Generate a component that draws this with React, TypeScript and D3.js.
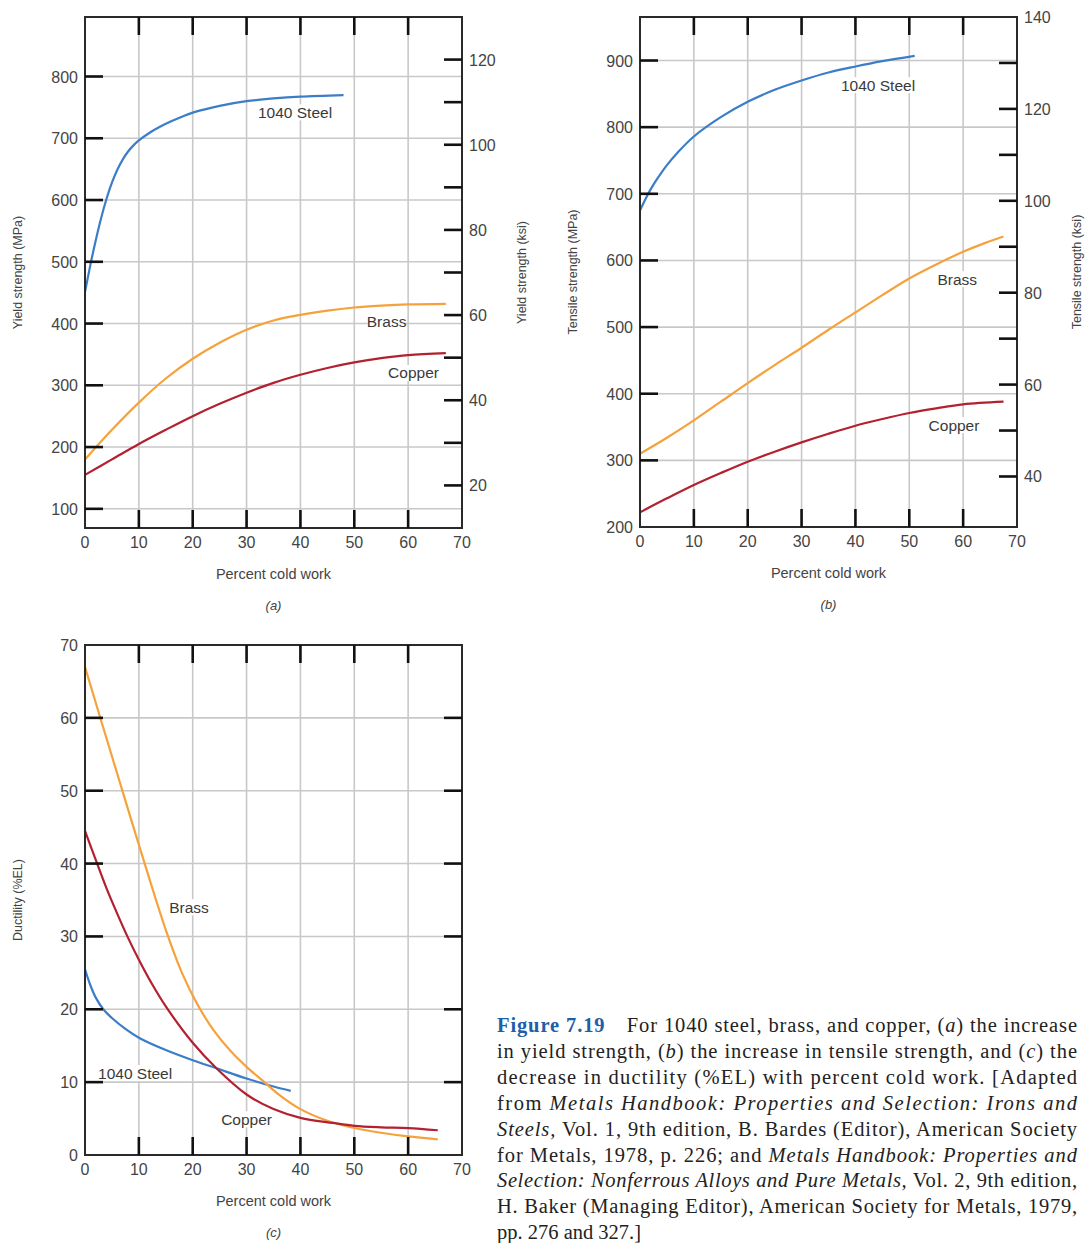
import React from 'react';
import * as d3 from 'd3';

// conversion between the two stress axes
const MPA_PER_KSI = 6.895;

// shared x axis
const coldWorkTicks = [0, 10, 20, 30, 40, 50, 60, 70];

// (a) yield strength, MPa
const ysSteelCW = [0, 1, 2, 3, 4, 5, 6, 7, 8, 9, 10, 12, 14, 16, 18, 20, 25, 30, 35, 40, 48];
const ysSteel = [451, 495, 535, 571, 602, 628, 649, 665.5, 678.5, 688.5, 696.5, 709, 719, 727.5, 735, 741.5, 752.5, 760, 764.5, 767.5, 770];
const ysBrassCW = [0, 5, 10, 15, 20, 25, 30, 35, 40, 45, 50, 55, 60, 67];
const ysBrass = [180, 228, 272, 311, 343, 369, 390, 405, 414, 421, 426, 429, 431, 432];
const ysCopperCW = [0, 5, 10, 15, 20, 25, 30, 35, 40, 45, 50, 55, 60, 67];
const ysCopper = [155, 180, 205, 228, 250, 270, 288, 304, 317, 328, 337, 344, 349, 352];
const ysMpaTicks = [100, 200, 300, 400, 500, 600, 700, 800];
const ysKsiTicks = [20, 30, 40, 50, 60, 70, 80, 90, 100, 110, 120];
const ysKsiLabels = [20, 40, 60, 80, 100, 120];

// (b) tensile strength, MPa
const tsSteelCW = [0, 1, 2, 3, 5, 7, 10, 15, 20, 25, 30, 35, 40, 45, 51];
const tsSteel = [675, 692, 707, 720, 743, 762, 786, 815, 838, 856, 870, 882, 891, 899, 907];
const tsBrassCW = [0, 5, 10, 15, 20, 25, 30, 35, 40, 45, 50, 55, 60, 64, 67.5];
const tsBrass = [310, 334, 360, 388, 416, 443, 469, 496, 522, 548, 573, 594, 613, 626, 636];
const tsCopperCW = [0, 5, 10, 15, 20, 25, 30, 35, 40, 45, 50, 55, 60, 67.5];
const tsCopper = [222, 243, 263, 281, 298, 313, 327, 340, 352, 362, 371, 378, 384, 388];
const tsMpaTicks = [200, 300, 400, 500, 600, 700, 800, 900];
const tsKsiTicks = [40, 50, 60, 70, 80, 90, 100, 110, 120, 130];
const tsKsiLabels = [40, 60, 80, 100, 120, 140];

// (c) ductility, %EL
const elSteelCW = [0, 1, 2, 3.4, 5, 7.5, 10, 15, 20, 24.4, 30, 35, 38.2];
const elSteel = [25.5, 23.3, 21.6, 20, 18.8, 17.3, 16.1, 14.4, 13, 11.9, 10.5, 9.4, 8.8];
const elBrassCW = [0, 3, 6, 9, 12, 15, 18, 21, 24, 27, 30, 33, 36, 40, 45, 50, 55, 60, 65.5];
const elBrass = [67, 59.6, 52.3, 45, 37.8, 30.9, 25, 20.5, 17, 14.3, 12.1, 10.2, 8.3, 6.3, 4.7, 3.7, 3.05, 2.55, 2.15];
const elCopperCW = [0, 2, 4, 6, 8, 10, 12.5, 15, 20, 24.4, 30, 35, 40, 46, 50, 55, 60, 65.5];
const elCopper = [44.5, 40.5, 36.6, 33.1, 29.8, 26.8, 23.4, 20.4, 15.4, 11.9, 8.3, 6.3, 5.1, 4.4, 4.0, 3.8, 3.7, 3.4];
const elTicks = [0, 10, 20, 30, 40, 50, 60, 70];

const COLORS = { steel: '#3b7dc8', brass: '#f6a23c', copper: '#b3202f' };
const SANS = '"Liberation Sans", Arial, sans-serif';
const SERIF = '"Liberation Serif", "Times New Roman", serif';
const TICK_LEN = 18;

function zip(xs, ys) {
  return xs.map((x, i) => [x, ys[i]]);
}

function Panel({ box, yDomain, leftTicks, leftLabels, rightScaleDomain, rightTicks, rightLabels,
  series, labels, leftTitle, rightTitle, letter }) {
  const { x0, x1, y0, y1 } = box;
  const x = d3.scaleLinear().domain([0, 70]).range([x0, x1]);
  const y = d3.scaleLinear().domain(yDomain).range([y1, y0]);
  const yr = rightScaleDomain ? d3.scaleLinear().domain(rightScaleDomain).range([y1, y0]) : null;
  const line = d3.line().x(d => x(d[0])).y(d => y(d[1])).curve(d3.curveCatmullRom.alpha(0.5));
  const inner = coldWorkTicks.filter(t => t > 0 && t < 70);
  const gridY = leftTicks.filter(t => y(t) > y0 + 1 && y(t) < y1 - 1);
  const midY = (y0 + y1) / 2;

  return (
    <g>
      {/* grid */}
      {inner.map(t => (
        <line key={'gx' + t} x1={x(t)} x2={x(t)} y1={y0} y2={y1} stroke="#c8c8c8" strokeWidth={1.6} />
      ))}
      {gridY.map(t => (
        <line key={'gy' + t} x1={x0} x2={x1} y1={y(t)} y2={y(t)} stroke="#c8c8c8" strokeWidth={1.6} />
      ))}
      {/* curves */}
      {series.map(s => (
        <path key={s.name} d={line(s.points)} fill="none" stroke={s.color} strokeWidth={2.2} />
      ))}
      {/* inline labels */}
      {labels.map(l => {
        const w = l.text.length * 7.6;
        return (
          <g key={l.text}>
            <rect x={x(l.cw) - w / 2} y={y(l.v) - 8} width={w} height={16} fill="#fff" />
            <text x={x(l.cw)} y={y(l.v) + 5.5} textAnchor="middle" fontFamily={SANS} fontSize={15.5}
              fill="#3a3a3a">{l.text}</text>
          </g>
        );
      })}
      {/* box */}
      <rect x={x0} y={y0} width={x1 - x0} height={y1 - y0} fill="none" stroke="#2a2a2a" strokeWidth={2} />
      {/* top and bottom ticks */}
      {inner.map(t => (
        <g key={'tx' + t}>
          <line x1={x(t)} x2={x(t)} y1={y0} y2={y0 + TICK_LEN} stroke="#111" strokeWidth={2.6} />
          <line x1={x(t)} x2={x(t)} y1={y1} y2={y1 - TICK_LEN} stroke="#111" strokeWidth={2.6} />
        </g>
      ))}
      {coldWorkTicks.map(t => (
        <text key={'lx' + t} x={x(t)} y={y1 + 20} textAnchor="middle" fontFamily={SANS} fontSize={16}
          fill="#444">{t}</text>
      ))}
      {/* left ticks */}
      {gridY.map(t => (
        <line key={'tl' + t} x1={x0} x2={x0 + TICK_LEN} y1={y(t)} y2={y(t)} stroke="#111" strokeWidth={2.6} />
      ))}
      {leftLabels.map(t => (
        <text key={'ll' + t} x={x0 - 7} y={y(t) + 6} textAnchor="end" fontFamily={SANS} fontSize={16}
          fill="#444">{t}</text>
      ))}
      {/* right ticks */}
      {(yr ? rightTicks.map(t => yr(t)) : gridY.map(t => y(t))).map((py, i) => (
        <line key={'tr' + i} x1={x1} x2={x1 - TICK_LEN} y1={py} y2={py} stroke="#111" strokeWidth={2.6} />
      ))}
      {yr && rightLabels.map(t => (
        <text key={'lr' + t} x={x1 + 7} y={yr(t) + 6} textAnchor="start" fontFamily={SANS} fontSize={16}
          fill="#444">{t}</text>
      ))}
      {/* titles */}
      <text transform={`translate(${x0 - 63},${midY}) rotate(-90)`} textAnchor="middle" fontFamily={SANS}
        fontSize={12.5} fill="#444">{leftTitle}</text>
      {rightTitle && (
        <text transform={`translate(${x1 + 64},${midY}) rotate(-90)`} textAnchor="middle" fontFamily={SANS}
          fontSize={12.5} fill="#444">{rightTitle}</text>
      )}
      <text x={(x0 + x1) / 2} y={y1 + 51} textAnchor="middle" fontFamily={SANS} fontSize={14.5}
        fill="#444">Percent cold work</text>
      <text x={(x0 + x1) / 2} y={y1 + 82} textAnchor="middle" fontFamily={SANS} fontSize={13}
        fontStyle="italic" fill="#444">({letter})</text>
    </g>
  );
}

const captionLines = [
  [['b', 'Figure 7.19'], ['n', '\u2003For 1040 steel, brass, and copper, ('], ['i', 'a'], ['n', ') the increase']],
  [['n', 'in yield strength, ('], ['i', 'b'], ['n', ') the increase in tensile strength, and ('], ['i', 'c'], ['n', ') the']],
  [['n', 'decrease in ductility (%EL) with percent cold work. [Adapted']],
  [['n', 'from '], ['i', 'Metals Handbook: Properties and Selection: Irons and']],
  [['i', 'Steels,'], ['n', ' Vol. 1, 9th edition, B. Bardes (Editor), American Society']],
  [['n', 'for Metals, 1978, p. 226; and '], ['i', 'Metals Handbook: Properties and']],
  [['i', 'Selection: Nonferrous Alloys and Pure Metals,'], ['n', ' Vol. 2, 9th edition,']],
  [['n', 'H. Baker (Managing Editor), American Society for Metals, 1979,']],
  [['n', 'pp. 276 and 327.]']],
];

export default function App() {
  const panelA = {
    box: { x0: 85, x1: 462, y0: 17, y1: 528 },
    yDomain: [10 * MPA_PER_KSI, 130 * MPA_PER_KSI],
    leftTicks: ysMpaTicks,
    leftLabels: ysMpaTicks,
    rightScaleDomain: [10, 130],
    rightTicks: ysKsiTicks,
    rightLabels: ysKsiLabels,
    series: [
      { name: 'steel', color: COLORS.steel, points: zip(ysSteelCW, ysSteel) },
      { name: 'brass', color: COLORS.brass, points: zip(ysBrassCW, ysBrass) },
      { name: 'copper', color: COLORS.copper, points: zip(ysCopperCW, ysCopper) },
    ],
    labels: [
      { text: '1040 Steel', cw: 39, v: 742 },
      { text: 'Brass', cw: 56, v: 404 },
      { text: 'Copper', cw: 61, v: 320 },
    ],
    leftTitle: 'Yield strength (MPa)',
    rightTitle: 'Yield strength (ksi)',
    letter: 'a',
  };
  const panelB = {
    box: { x0: 640, x1: 1017, y0: 17, y1: 527 },
    yDomain: [200, 140 * MPA_PER_KSI],
    leftTicks: tsMpaTicks,
    leftLabels: tsMpaTicks,
    rightScaleDomain: [200 / MPA_PER_KSI, 140],
    rightTicks: tsKsiTicks,
    rightLabels: tsKsiLabels,
    series: [
      { name: 'steel', color: COLORS.steel, points: zip(tsSteelCW, tsSteel) },
      { name: 'brass', color: COLORS.brass, points: zip(tsBrassCW, tsBrass) },
      { name: 'copper', color: COLORS.copper, points: zip(tsCopperCW, tsCopper) },
    ],
    labels: [
      { text: '1040 Steel', cw: 44.2, v: 863 },
      { text: 'Brass', cw: 58.9, v: 572 },
      { text: 'Copper', cw: 58.3, v: 353 },
    ],
    leftTitle: 'Tensile strength (MPa)',
    rightTitle: 'Tensile strength (ksi)',
    letter: 'b',
  };
  const panelC = {
    box: { x0: 85, x1: 462, y0: 645, y1: 1155 },
    yDomain: [0, 70],
    leftTicks: elTicks,
    leftLabels: elTicks,
    rightScaleDomain: null,
    rightTicks: [],
    rightLabels: [],
    series: [
      { name: 'steel', color: COLORS.steel, points: zip(elSteelCW, elSteel) },
      { name: 'brass', color: COLORS.brass, points: zip(elBrassCW, elBrass) },
      { name: 'copper', color: COLORS.copper, points: zip(elCopperCW, elCopper) },
    ],
    labels: [
      { text: 'Brass', cw: 19.3, v: 34 },
      { text: '1040 Steel', cw: 9.3, v: 11.25 },
      { text: 'Copper', cw: 30, v: 4.9 },
    ],
    leftTitle: 'Ductility (%EL)',
    rightTitle: null,
    letter: 'c',
  };

  return (
    <svg width={1086} height={1243} style={{ position: 'absolute', left: 0, top: 0, background: '#fff' }}>
      <rect width={1086} height={1243} fill="#fff" />
      <Panel {...panelA} />
      <Panel {...panelB} />
      <Panel {...panelC} />
      <g fontFamily={SERIF} fontSize={20.5} fill="#222">
        {captionLines.map((segs, i) => (
          <text key={i} x={497} y={1032 + i * 25.9}
            {...(i < captionLines.length - 1 ? { textLength: 580, lengthAdjust: 'spacing' } : {})}>
            {segs.map(([k, s], j) => (
              <tspan key={j} fontStyle={k === 'i' ? 'italic' : undefined}
                fontWeight={k === 'b' ? 'bold' : undefined} fill={k === 'b' ? '#1f5ea8' : undefined}>{s}</tspan>
            ))}
          </text>
        ))}
      </g>
    </svg>
  );
}
